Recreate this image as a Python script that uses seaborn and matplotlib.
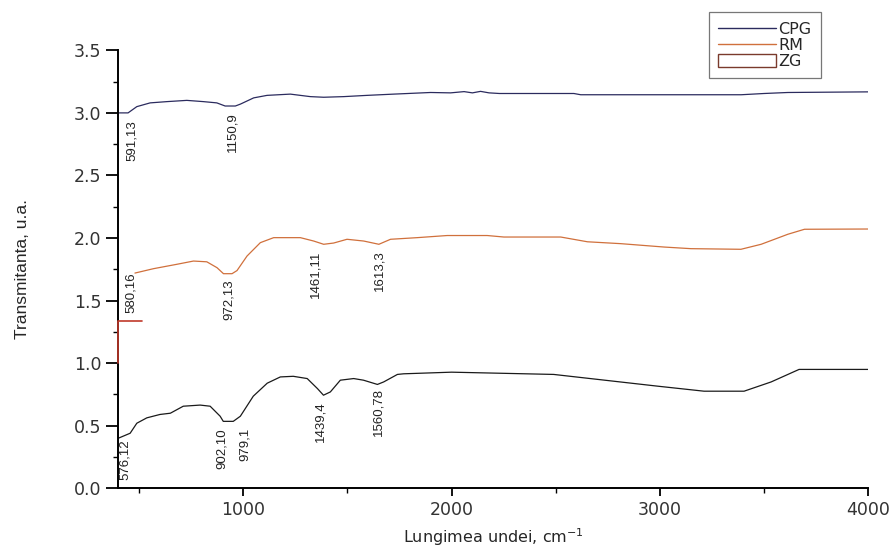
import matplotlib
matplotlib.use("Agg")
import matplotlib.pyplot as plt
import seaborn as sns
import pandas as pd
from matplotlib.lines import Line2D
from matplotlib.patches import Patch
from matplotlib.ticker import MultipleLocator

# Spectre FTIR
cpg_x = [400, 447, 489, 553, 633, 729, 809, 873, 913, 962, 986, 1050, 1114, 1226,
         1322, 1386, 1482, 1594, 1722, 1899, 1995, 2060, 2100, 2139, 2180, 2230,
         2332, 2587, 2620, 3390, 3500, 3614, 4000]
cpg_y = [3.0, 3.0, 3.05, 3.08, 3.09, 3.10, 3.09, 3.08, 3.055, 3.055, 3.07, 3.12,
         3.14, 3.15, 3.13, 3.125, 3.13, 3.14, 3.15, 3.163, 3.16, 3.17, 3.16, 3.172,
         3.16, 3.155, 3.155, 3.155, 3.145, 3.145, 3.155, 3.163, 3.168]

rm_x = [480, 569, 681, 761, 825, 874, 905, 946, 970, 1018, 1082, 1146, 1274, 1338,
        1386, 1434, 1498, 1578, 1651, 1707, 1835, 1979, 2171, 2251, 2524, 2652,
        2812, 3020, 3149, 3389, 3486, 3614, 3694, 4000]
rm_y = [1.72, 1.755, 1.79, 1.816, 1.81, 1.763, 1.715, 1.715, 1.74, 1.856, 1.963,
        2.003, 2.003, 1.976, 1.95, 1.96, 1.99, 1.976, 1.95, 1.99, 2.003, 2.02, 2.02,
        2.008, 2.008, 1.97, 1.955, 1.928, 1.915, 1.91, 1.95, 2.03, 2.07, 2.072]

# bucata rosie de la inceputul scalei
rm_tail_x = [400, 400, 514]
rm_tail_y = [1.0, 1.336, 1.336]

zg_x = [400, 457, 489, 537, 600, 650, 712, 793, 841, 889, 904, 952, 986, 1048,
        1115, 1178, 1240, 1307, 1356, 1385, 1418, 1466, 1530, 1577, 1644, 1674,
        1740, 1770, 2000, 2490, 2990, 3212, 3404, 3534, 3668, 4000]
zg_y = [0.40, 0.44, 0.52, 0.563, 0.59, 0.60, 0.656, 0.665, 0.656, 0.576, 0.535,
        0.535, 0.576, 0.736, 0.84, 0.89, 0.895, 0.877, 0.797, 0.744, 0.77, 0.864,
        0.877, 0.864, 0.83, 0.85, 0.91, 0.915, 0.928, 0.91, 0.816, 0.776, 0.776,
        0.85, 0.95, 0.95]

# etichete de picuri
peak_text = ["591,13", "1150,9", "580,16", "972,13", "1461,11", "1613,3",
             "576,12", "902,10", "979,1", "1439,4", "1560,78"]
peak_x = [466, 947, 463, 930, 1345, 1655, 433, 899, 1010, 1370, 1649]
peak_y = [2.78, 2.85, 1.56, 1.51, 1.71, 1.74, 0.23, 0.32, 0.35, 0.53, 0.61]

c_cpg = "#2b2b5e"
c_rm = "#d0703c"
c_zg = "#1a1a1a"

sns.set_style("ticks")
plt.rcParams["font.family"] = ["DejaVu Sans"]

fig = plt.figure(figsize=(8.96, 5.53), dpi=100)
ax = fig.add_axes([0.132, 0.117, 0.837, 0.792])

df_cpg = pd.DataFrame({"x": cpg_x, "y": cpg_y})
df_rm = pd.DataFrame({"x": rm_x, "y": rm_y})
df_zg = pd.DataFrame({"x": zg_x, "y": zg_y})

sns.lineplot(data=df_cpg, x="x", y="y", ax=ax, color=c_cpg, lw=0.9,
             sort=False, estimator=None)
sns.lineplot(data=df_rm, x="x", y="y", ax=ax, color=c_rm, lw=0.9,
             sort=False, estimator=None)
sns.lineplot(data=df_zg, x="x", y="y", ax=ax, color=c_zg, lw=0.9,
             sort=False, estimator=None)
ax.plot(rm_tail_x, rm_tail_y, color="#c0392b", lw=1.2, clip_on=False, zorder=5)

for t, px, py in zip(peak_text, peak_x, peak_y):
    ax.text(px, py, t, rotation=90, ha="center", va="center", fontsize=9.5,
            family="Liberation Sans", color="#222222")

ax.set_xlim(400, 4000)
ax.set_ylim(0, 3.5)
ax.xaxis.set_major_locator(MultipleLocator(1000))
ax.xaxis.set_minor_locator(MultipleLocator(500))
ax.yaxis.set_major_locator(MultipleLocator(0.5))
ax.yaxis.set_minor_locator(MultipleLocator(0.25))
ax.tick_params(which="major", width=1.3, labelsize=12.5, labelcolor="#333333",
               color="black")
ax.tick_params(axis="y", which="major", length=8.5)
ax.tick_params(axis="x", which="major", length=6)
ax.tick_params(which="minor", length=3.5, width=1.0, color="black")
for s in ["top", "right"]:
    ax.spines[s].set_visible(False)
for s in ["left", "bottom"]:
    ax.spines[s].set_linewidth(1.4)
    ax.spines[s].set_color("black")

ax.set_xlabel("Lungimea undei, cm$^{-1}$", fontsize=11.5, labelpad=5)
ax.set_ylabel("Transmitanta, u.a.", fontsize=12.5, family="Liberation Sans",
              labelpad=32)

handles = [Line2D([], [], color=c_cpg, lw=1),
           Line2D([], [], color=c_rm, lw=1),
           Patch(facecolor="white", edgecolor="#7a3a2c", lw=1)]
leg = fig.legend(handles, ["CPG", "RM", "ZG"], loc="upper right",
                 bbox_to_anchor=(0.916, 0.978), fontsize=11.5, frameon=True,
                 fancybox=False, edgecolor="#555555", handlelength=3.6,
                 handleheight=0.9, labelspacing=0.05, borderpad=0.6,
                 handletextpad=0.15, borderaxespad=0)
leg.get_frame().set_linewidth(0.9)

fig.savefig("out.png", dpi=100)
